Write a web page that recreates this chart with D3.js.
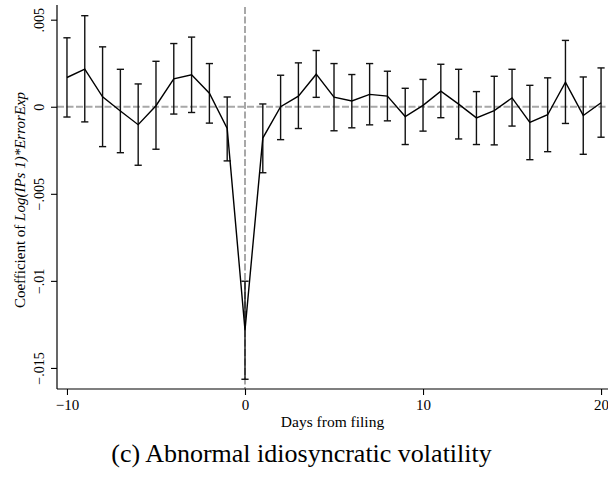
<!DOCTYPE html>
<html>
<head>
<meta charset="utf-8">
<script src="https://cdn.jsdelivr.net/npm/d3@7"></script>
<style>
  html, body { margin: 0; padding: 0; background: #fff; }
  svg { display: block; }
  text { font-family: "Liberation Serif", "Times New Roman", serif; fill: #000; }
</style>
</head>
<body>
<svg id="chart" width="608" height="481"></svg>
<script>
// Event-time coefficients (days relative to filing), with 95% bounds
const days = [-10,-9,-8,-7,-6,-5,-4,-3,-2,-1,0,1,2,3,4,5,6,7,8,9,10,11,12,13,14,15,16,17,18,19,20];
const coef = [0.00168,0.00216,0.00057,-0.00024,-0.00103,0.00006,0.00160,0.00183,0.00078,-0.00124,-0.01283,-0.00180,0.00000,0.00061,0.00187,0.00055,0.00033,0.00071,0.00061,-0.00056,0.00008,0.00089,0.00015,-0.00064,-0.00022,0.00051,-0.00090,-0.00046,0.00141,-0.00050,0.00023];
const lower = [-0.00059,-0.00087,-0.00229,-0.00264,-0.00336,-0.00244,-0.00042,-0.00033,-0.00094,-0.00311,-0.01565,-0.00379,-0.00189,-0.00125,0.00054,-0.00138,-0.00121,-0.00104,-0.00081,-0.00217,-0.00140,-0.00063,-0.00185,-0.00217,-0.00219,-0.00111,-0.00304,-0.00258,-0.00096,-0.00273,-0.00175];
const upper = [0.00396,0.00523,0.00344,0.00215,0.00131,0.00261,0.00363,0.00400,0.00248,0.00056,-0.01002,0.00016,0.00181,0.00252,0.00323,0.00248,0.00185,0.00248,0.00204,0.00106,0.00157,0.00244,0.00215,0.00087,0.00175,0.00215,0.00123,0.00166,0.00381,0.00171,0.00223];

const xTicks = [-10, 0, 10, 20];
const yTicks = [0.005, 0, -0.005, -0.01, -0.015];
const yTickLabels = [".005", "0", "\u2212.005", "\u2212.01", "\u2212.015"];
const xTickLabels = ["\u221210", "0", "10", "20"];

const svg = d3.select("#chart");
const plotLeft = 57, plotRight = 608, plotTop = 6, plotBottom = 389;

const x = d3.scaleLinear().domain([-10.56, 20.39]).range([plotLeft, plotRight]);
const y = d3.scaleLinear().domain([-0.01621, 0.005786]).range([plotBottom, plotTop]);

const data = days.map((d, i) => ({ d, c: coef[i], lo: lower[i], hi: upper[i] }));

// reference lines at zero and at the filing day
svg.append("line")
  .attr("x1", plotLeft).attr("x2", plotRight)
  .attr("y1", y(0)).attr("y2", y(0))
  .attr("stroke", "#a8a8a8").attr("stroke-width", 2)
  .attr("stroke-dasharray", "7,2.5");
svg.append("line")
  .attr("x1", x(0)).attr("x2", x(0))
  .attr("y1", plotTop + 1).attr("y2", plotBottom)
  .attr("stroke", "#a8a8a8").attr("stroke-width", 2)
  .attr("stroke-dasharray", "7,2.5");

// confidence intervals
const bars = svg.append("g").attr("stroke", "#111").attr("stroke-width", 1.4).attr("fill", "none");
const capW = 3.6;
data.forEach(p => {
  const xc = x(p.d);
  bars.append("line").attr("x1", xc).attr("x2", xc).attr("y1", y(p.hi)).attr("y2", y(p.lo));
  bars.append("line").attr("x1", xc - capW).attr("x2", xc + capW).attr("y1", y(p.hi)).attr("y2", y(p.hi));
  bars.append("line").attr("x1", xc - capW).attr("x2", xc + capW).attr("y1", y(p.lo)).attr("y2", y(p.lo));
});

// point estimates
svg.append("path")
  .datum(data)
  .attr("fill", "none").attr("stroke", "#000").attr("stroke-width", 1.4)
  .attr("stroke-linejoin", "miter")
  .attr("d", d3.line().x(p => x(p.d)).y(p => y(p.c)));

// y axis
const yAxis = svg.append("g").attr("transform", `translate(${plotLeft},0)`)
  .call(d3.axisLeft(y).tickValues(yTicks).tickSize(6).tickFormat((v, i) => yTickLabels[i]));
yAxis.select(".domain").attr("d", `M0,${plotTop - 1}V${plotBottom}`).attr("stroke", "#000").attr("stroke-width", 1.2);
yAxis.selectAll(".tick line").attr("stroke", "#000").attr("stroke-width", 1.1);
yAxis.selectAll(".tick text")
  .attr("x", 0).attr("dy", 0)
  .attr("transform", "translate(-13,0) rotate(-90)")
  .attr("text-anchor", "middle")
  .style("font-size", "14px")
  .style("font-family", "'Liberation Serif', serif");

// x axis
const xAxis = svg.append("g").attr("transform", `translate(0,${plotBottom})`)
  .call(d3.axisBottom(x).tickValues(xTicks).tickSize(6).tickFormat((v, i) => xTickLabels[i]));
xAxis.select(".domain").attr("d", `M${plotLeft},0H${plotRight}`).attr("stroke", "#000").attr("stroke-width", 1.2);
xAxis.selectAll(".tick line").attr("stroke", "#000").attr("stroke-width", 1.1);
xAxis.selectAll(".tick text")
  .attr("y", 20.5).attr("dy", 0)
  .style("font-size", "15px")
  .style("font-family", "'Liberation Serif', serif");

// axis titles
const yTitle = svg.append("text")
  .attr("transform", "translate(25,200) rotate(-90)")
  .attr("text-anchor", "middle")
  .style("font-size", "15px");
yTitle.append("tspan").text("Coefficient of ");
yTitle.append("tspan").style("font-style", "italic").text("Log(IPs 1)*ErrorExp");

svg.append("text")
  .attr("x", (plotLeft + plotRight) / 2).attr("y", 427)
  .attr("text-anchor", "middle")
  .style("font-size", "15.5px")
  .text("Days from filing");

// caption
svg.append("text")
  .attr("x", 301.5).attr("y", 462)
  .attr("text-anchor", "middle")
  .style("font-size", "26px")
  .text("(c) Abnormal idiosyncratic volatility");
</script>
</body>
</html>
